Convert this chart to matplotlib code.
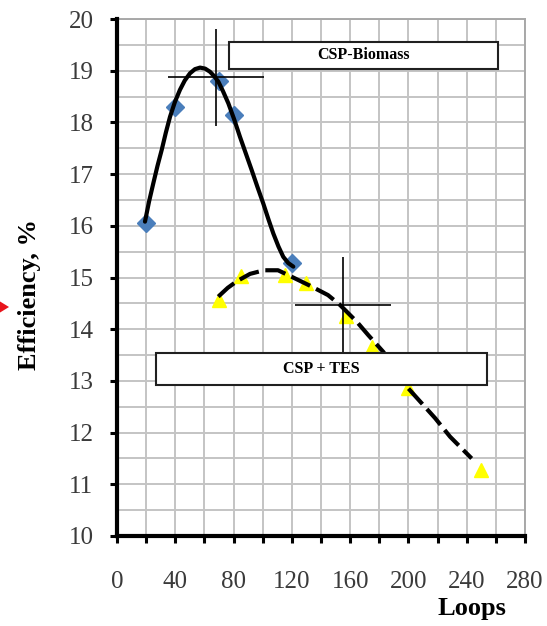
import matplotlib
matplotlib.use("Agg")
import matplotlib.pyplot as plt
from matplotlib.patches import Rectangle, Polygon
from matplotlib.ticker import MultipleLocator

# ---------------- data ----------------
biomass_x = [20, 40, 70, 80, 120]
biomass_y = [16.05, 18.30, 18.80, 18.14, 15.28]

tes_x = [70, 85, 115, 130, 157, 175, 200, 250]
tes_y = [14.56, 15.02, 15.05, 14.89, 14.25, 13.66, 12.86, 11.28]

# trend curves
biomass_curve_x = [19.2, 22.0, 24.9, 27.8, 30.7, 33.5, 36.4, 39.8, 43.2, 46.5,
                   50.1, 53.5, 57.0, 60.5, 63.8, 66.5, 69.5, 72.8, 76.4, 80.4,
                   84.4, 88.4, 92.4, 96.4, 100.4, 104.0, 107.3, 110.8, 114.1,
                   117.5, 121.0]
biomass_curve_y = [16.08, 16.47, 16.82, 17.16, 17.47, 17.80, 18.11, 18.40, 18.63, 18.81,
                   18.95, 19.03, 19.06, 19.04, 18.98, 18.90, 18.79, 18.60, 18.37, 18.06,
                   17.72, 17.40, 17.08, 16.75, 16.43, 16.12, 15.85, 15.60, 15.40,
                   15.28, 15.21]

tes_curve_x = [69.5, 76.0, 82.4, 91.3, 100.9, 110.5, 118.7, 132.5, 144.8, 153.0,
               164.7, 172.3, 182.8, 198.8, 210.3, 218.3, 228.6, 243.4]
tes_curve_y = [14.63, 14.80, 14.93, 15.07, 15.14, 15.14, 15.03, 14.84, 14.66, 14.47,
               14.14, 13.89, 13.56, 12.89, 12.53, 12.28, 11.92, 11.50]

# cross markers (centre, half-widths)
cross_x = [68, 155]
cross_y = [18.87, 14.47]
cross_xerr = [33, 33]
cross_yerr = [0.93, 0.93]

box_labels = ["CSP-Biomass", "CSP + TES"]
x_ticks = [0, 40, 80, 120, 160, 200, 240, 280]
y_ticks = list(range(10, 21))

# ---------------- figure ----------------
W, H = 547, 626
fig = plt.figure(figsize=(W / 100, H / 100), dpi=100)
ax = fig.add_axes([117 / W, 1 - 536 / H, (525 - 117) / W, (536 - 19) / H])

serif = ["Liberation Serif", "DejaVu Serif"]

ax.set_xlim(0, 280)
ax.set_ylim(10, 20)

# grid
ax.xaxis.set_major_locator(MultipleLocator(40))
ax.xaxis.set_minor_locator(MultipleLocator(20))
ax.yaxis.set_major_locator(MultipleLocator(1))
ax.yaxis.set_minor_locator(MultipleLocator(0.5))
ax.grid(True, which="both", color="#c4c4c4", lw=1.4, zorder=0)
ax.set_axisbelow(True)

# spines
for s in ["left", "bottom"]:
    ax.spines[s].set_linewidth(3.0)
    ax.spines[s].set_color("black")
    ax.spines[s].set_zorder(6)
for s in ["top", "right"]:
    ax.spines[s].set_linewidth(1.4)
    ax.spines[s].set_color("#a8a8a8")

ax.tick_params(axis="both", which="both", direction="out", length=5, width=2.2,
               color="black")
ax.tick_params(axis="y", which="minor", length=0)
ax.tick_params(axis="x", which="major", pad=20)
ax.tick_params(axis="y", which="major", pad=12)

ax.set_xticks(x_ticks)
ax.set_xticklabels([str(v) for v in x_ticks], fontfamily=serif, fontsize=18,
                   color="#3a3a3a")
ax.set_yticks(y_ticks)
ax.set_yticklabels([str(v) for v in y_ticks], fontfamily=serif, fontsize=18,
                   color="#3a3a3a")

# markers
ax.plot(biomass_x, biomass_y, ls="none", marker="D", ms=9.5,
        mfc="#4a7ebb", mec="#4a7ebb", zorder=3)
ax.plot(tes_x, tes_y, ls="none", marker="^", ms=10,
        mfc="#ffff00", mec="#ffff00", zorder=3)

# trend curves
ax.plot(biomass_curve_x, biomass_curve_y, color="black", lw=3.0,
        solid_capstyle="round", solid_joinstyle="round", zorder=4)
ax.plot(tes_curve_x, tes_curve_y, color="black", lw=3.0,
        dashes=(5, 1.6), dash_capstyle="butt", dash_joinstyle="round", zorder=4)

# crosshairs
ax.errorbar(cross_x, cross_y, xerr=cross_xerr, yerr=cross_yerr, fmt="none",
            ecolor="black", elinewidth=1.2, capsize=0, zorder=5)

# text boxes
ax.add_patch(Rectangle((77.1, 19.03), 261.7 - 77.1, 19.56 - 19.03,
                       facecolor="white", edgecolor="#202020", lw=1.5, zorder=7))
ax.text((77.1 + 261.7) / 2, (19.03 + 19.56) / 2, box_labels[0],
        ha="center", va="center", fontfamily=serif, fontweight="bold",
        fontsize=11.5, zorder=8)
ax.add_patch(Rectangle((26.8, 12.92), 253.7 - 26.8, 13.53 - 12.92,
                       facecolor="white", edgecolor="#202020", lw=1.5, zorder=7))
ax.text((26.8 + 253.7) / 2, (12.92 + 13.53) / 2, box_labels[1],
        ha="center", va="center", fontfamily=serif, fontweight="bold",
        fontsize=11.5, zorder=8)

# axis labels
ax.set_ylabel("Efficiency, %", fontfamily=serif, fontweight="bold", fontsize=19,
              va="center")
ax.yaxis.set_label_coords((30 - 117) / 408, (536 - 294) / 517)
ax.set_xlabel("Loops", fontfamily=serif, fontweight="bold", fontsize=19,
              va="center")
ax.xaxis.set_label_coords((472 - 117) / 408, (536 - 608) / 517)

# red arrowhead clipped at the left edge
fig.patches.append(Polygon([[-4 / W, 1 - 299 / H], [9 / W, 1 - 307 / H],
                            [-4 / W, 1 - 315 / H]], closed=True,
                           transform=fig.transFigure, facecolor="#e8141c",
                           edgecolor="none"))

fig.savefig("out.png", dpi=100)
